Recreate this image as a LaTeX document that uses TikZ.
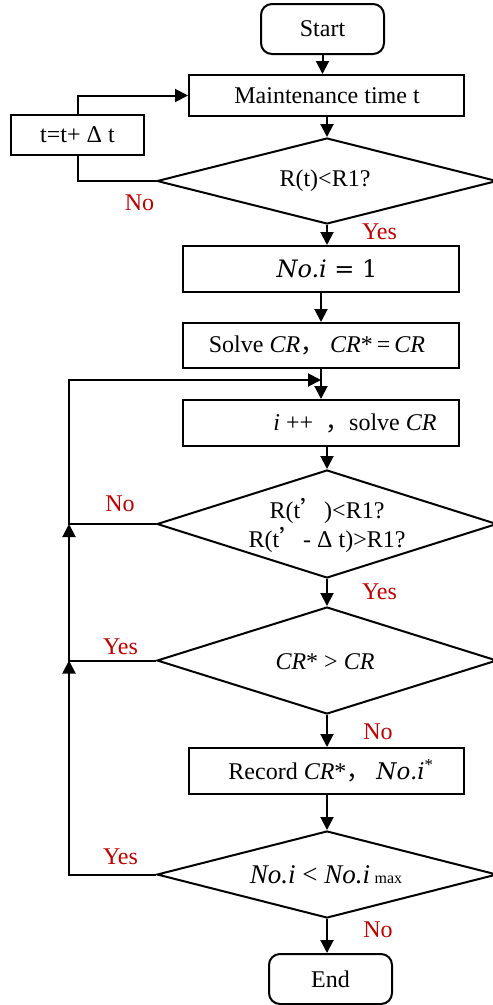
\documentclass[tikz,border=0pt]{standalone}
\usepackage{fontspec}
\setmainfont{Liberation Serif}
\newfontfamily\cjk{Noto Sans CJK SC}
\newfontfamily\cam{DejaVu Serif}
\usetikzlibrary{shapes.geometric,arrows.meta}
\definecolor{lblred}{RGB}{192,0,0}
\begin{document}
\begin{tikzpicture}[x=1pt,y=-1pt,
  every node/.style={font=\fontsize{24}{29}\selectfont},
  box/.style={draw,line width=2pt,inner sep=0pt},
  term/.style={box,rounded corners=11pt},
  dia/.style={draw,diamond,line width=2pt,inner sep=0pt,aspect=3.5,minimum width=340pt},
  conn/.style={line width=2pt},
  arr/.style={conn,-{Triangle[length=13pt,width=13pt]}},
  lbl/.style={text=lblred,inner sep=0pt}]
\useasboundingbox (0,0) rectangle (493,1005);
% boxes
\node[term,minimum width=123pt,minimum height=50pt] (start) at (322.5,29) {};
\node at (322.5,29) (startt) {Start};
\node[box,minimum width=275pt,minimum height=41pt] (maint) at (326.5,95.5) {};
\node (maintt) at (327,95.5) {Maintenance time t};
\node[box,minimum width=133pt,minimum height=40pt] (tbox) at (77.5,135) {};
\node (tboxt) at (77.5,135) {t=t+ Δ t};
\node[dia,minimum height=86pt] (d1) at (327,181) {};
\node (d1t) at (325,181) {R(t)<R1?};
\node[box,minimum width=276pt,minimum height=46pt] (noi) at (321,269) {};
\node (noit) at (327,269) {{\cam\fontsize{24}{28}\selectfont\itshape No.i\upshape\ = 1}};
\node[box,minimum width=276pt,minimum height=45pt] (solve) at (321,345.5) {};
\node (solvet) at (317,345.5) {Solve \textit{CR}{\cjk ，} \textit{CR}*\,=\,\textit{CR}};
\node[box,minimum width=276pt,minimum height=46pt] (ipp) at (321,423) {};
\node (ippt) at (355,423) {\textit{i} ++\ \ {\cjk ，}solve \textit{CR}};
\node[dia,minimum height=108pt] (d2) at (327,524) {};
\node[align=center] (d2t) at (327,525) {R(t{\cjk ’})<R1?\\R(t{\cjk ’}- Δ t)>R1?};
\node[dia,minimum height=107pt] (d3) at (327,660.5) {};
\node (d3t) at (325,662) {\textit{CR}* > \textit{CR}};
\node[box,minimum width=275pt,minimum height=46pt] (record) at (326.5,771) {};
\node (recordt) at (331,771) {Record \textit{CR}*{\cjk ，} {\cam\fontsize{23}{26}\selectfont\itshape No.i}\textsuperscript{*}};
\node[dia,minimum height=87pt] (d4) at (327,874.5) {};
\node (d4t) at (326,875) {\fontsize{27}{30}\selectfont\textit{No.i} < \textit{No.i}\,{\fontsize{16}{16}\selectfont max}};
\node[term,minimum width=123pt,minimum height=50pt] (end) at (330.5,979) {};
\node (endt) at (330.5,979) {End};
% loop helpers
\coordinate (lx) at (69,0);
\coordinate (lp) at (321,380);
% main flow
\draw[arr] (start.south) -- (start.south |- maint.north);
\draw[arr] (d1.north |- maint.south) -- (d1.north);
\draw[arr] (d1.south) -- (d1.south |- noi.north);
\draw[arr] (noi.south) -- (solve.north);
\draw[arr] (solve.south) -- (ipp.north);
\draw[arr] (d2.north |- ipp.south) -- (d2.north);
\draw[arr] (d2.south) -- (d3.north);
\draw[arr] (d3.south) -- (d3.south |- record.north);
\draw[arr] (d4.north |- record.south) -- (d4.north);
\draw[arr] (d4.south) -- (d4.south |- end.north);
% first loop
\draw[conn] (d1.west) -- (d1.west -| tbox.south) -- (tbox.south);
\draw[arr] (tbox.north) |- (maint.west);
% left loops
\draw[arr] (d2.west) -- (lx |- d2.west) -- (lx |- lp) -- (lp);
\draw[arr] (d3.west) -- (lx |- d3.west) -- (lx |- d2.west);
\draw[arr] (d4.west) -- (lx |- d4.west) -- (lx |- d3.west);
% labels
\node[lbl] (l1) at (139.5,203) {No};
\node[lbl] (l2) at (379.5,232) {Yes};
\node[lbl] (l3) at (120,504) {No};
\node[lbl] (l4) at (379.5,592) {Yes};
\node[lbl] (l5) at (120.5,647) {Yes};
\node[lbl] (l6) at (378,732) {No};
\node[lbl] (l7) at (120.5,857) {Yes};
\node[lbl] (l8) at (378,930) {No};
\end{tikzpicture}
\end{document}
